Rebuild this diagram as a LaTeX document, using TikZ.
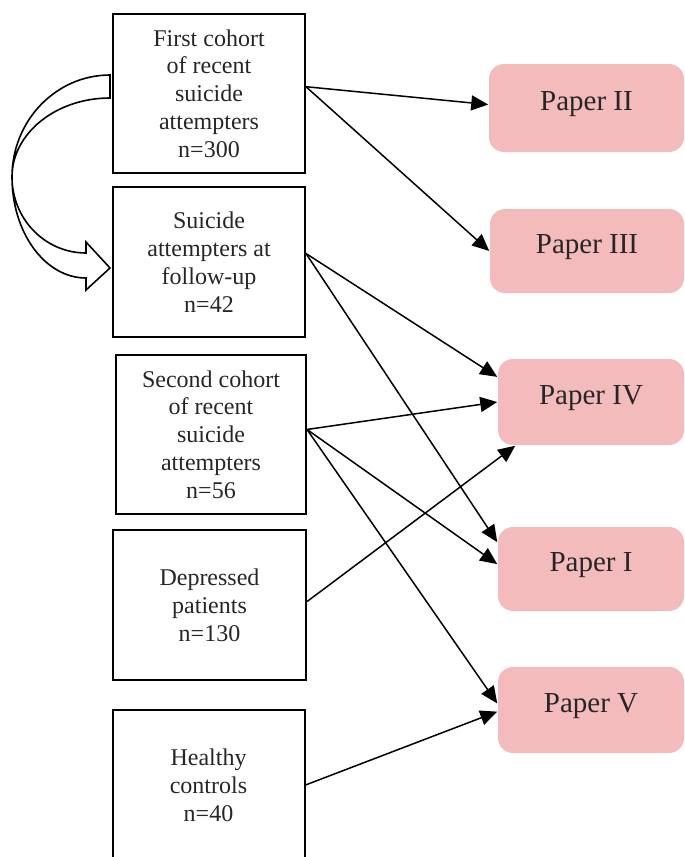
\documentclass[tikz,border=0pt]{standalone}
\usepackage{fontspec}
\setmainfont{Liberation Serif}
\usetikzlibrary{arrows.meta}
\definecolor{paperpink}{RGB}{244,187,188}
\definecolor{inkgrey}{RGB}{38,38,38}
\tikzset{cohort/.style={draw,line width=1pt,minimum width=96pt,align=center,text=inkgrey,font=\fontsize{12}{13.9}\selectfont}}
\tikzset{paper/.style={fill=paperpink,rounded corners=7.5pt,text=inkgrey,font=\fontsize{14.5}{16}\selectfont,text height=11pt,text depth=8.4pt}}

\begin{document}
\begin{tikzpicture}[x=0.5pt,y=-0.5pt,line width=0.75pt,>={Triangle[length=8.5pt,width=7.5pt]}]
\useasboundingbox (0,0) rectangle (685,857);
\node[cohort,name=b1,minimum height=79.5pt] at (209,93.5) {First cohort\\of recent\\suicide\\attempters\\n=300};
\node[cohort,name=b2,minimum height=75pt] at (209,262) {Suicide\\attempters at\\follow-up\\n=42};
\node[cohort,name=b3,minimum width=95pt,minimum height=79.5pt] at (211,434.5) {Second cohort\\of recent\\suicide\\attempters\\n=56};
\node[cohort,name=b4,minimum width=96.5pt,minimum height=75pt] at (209.5,605) {Depressed\\patients\\n=130};
\node[cohort,name=b5,minimum width=96pt,minimum height=75pt] at (208.5,785) {Healthy\\controls\\n=40};
\node[paper,name=p2,minimum width=97.5pt,minimum height=44pt] at (586.5,108) {Paper II};
\node[paper,name=p3,minimum width=97pt,minimum height=42pt] at (587,251) {Paper III};
\node[paper,name=p4,minimum width=93pt,minimum height=43pt] at (591,402) {Paper IV};
\node[paper,name=p1,minimum width=93pt,minimum height=42pt] at (591,569) {Paper I};
\node[paper,name=p5,minimum width=93pt,minimum height=43pt] at (591,710) {Paper V};
% follow-up arrow
\draw[line width=0.8pt,fill=white] (110,75) .. controls (55.9,75) and (12,120.7) .. (12,177)
  .. controls (12,232.8) and (45.1,278) .. (86,278) -- (86,290) -- (110,268) -- (86,242) -- (86,253)
  .. controls (45.1,253) and (12,219) .. (12,177) .. controls (12,133.4) and (55.9,98) .. (110,98) -- cycle;
\draw[->] (b1.4) to (p2.178);
\draw[->] (b1.4) to (p3.west);
\draw[->] (b2.5) to (p4.165);
\draw[->] (b2.5) to (p1.164);
\draw[->] (b3.3) to (p4.west);
\draw[->] (b3.3) to (p1.177);
\draw[->] (b3.3) to (p5.176);
\draw[->] (b4.2) to (p4.210);
\draw[->] (b5.east) to (p5.181);
\end{tikzpicture}
\end{document}
